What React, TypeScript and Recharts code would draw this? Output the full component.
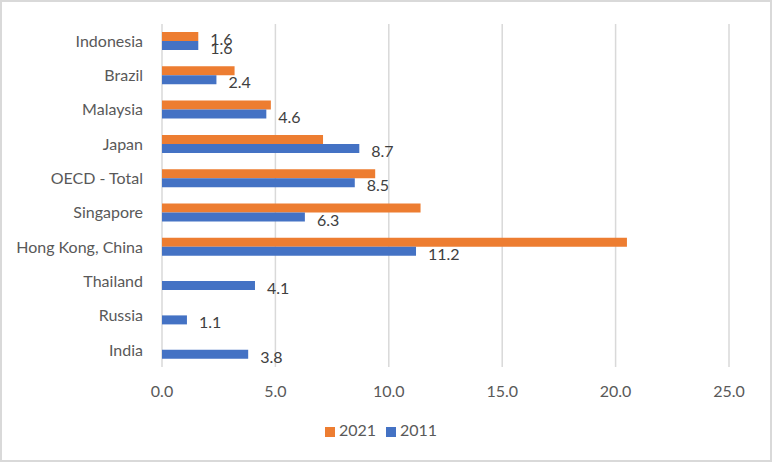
import React from "react";
import {
  Bar,
  BarChart,
  CartesianGrid,
  LabelList,
  Legend,
  XAxis,
  YAxis,
} from "recharts";

const categories = [
  "Indonesia",
  "Brazil",
  "Malaysia",
  "Japan",
  "OECD - Total",
  "Singapore",
  "Hong Kong, China",
  "Thailand",
  "Russia",
  "India",
];
const values2021 = [1.6, 3.2, 4.8, 7.1, 9.4, 11.4, 20.5, null, null, null];
const values2011 = [1.6, 2.4, 4.6, 8.7, 8.5, 6.3, 11.2, 4.1, 1.1, 3.8];
const xTicks = [0, 5, 10, 15, 20, 25];
const legendOrder = ["2021", "2011"];
// Excel only had the 2021 data label switched on for this one point
const labelled2021 = ["Indonesia"];

const data = categories.map((name, i) => ({
  name,
  y2021: values2021[i],
  y2011: values2011[i],
}));

const textColor = "#595959";
const fontSize = 16;

function ValueLabel(props: any) {
  const { x, y, width, height, value, index, only } = props;
  if (value == null) return null;
  if (only && !only.includes(categories[index])) return null;
  return (
    <text
      x={x + width + 12}
      y={y + height / 2 + 2}
      fill="#404040"
      fontSize={fontSize}
      dominantBaseline="central"
    >
      {Number(value).toFixed(1)}
    </text>
  );
}

export default function App() {
  return (
    <div
      style={{
        position: "absolute",
        left: 0,
        top: 0,
        width: 772,
        height: 462,
        background: "#fff",
        fontFamily: "Lato, 'Liberation Sans', sans-serif",
      }}
    >
      <BarChart
        width={772}
        height={462}
        data={data}
        layout="vertical"
        barSize={9}
        barGap={0}
        margin={{ top: 24, right: 43, left: 0, bottom: 0 }}
      >
        <CartesianGrid
          horizontal={false}
          stroke="#d9d9d9"
          strokeWidth={1.5}
        />
        <XAxis
          type="number"
          domain={[0, 25]}
          ticks={xTicks}
          height={95}
          axisLine={false}
          tickLine={false}
          tickMargin={13}
          tick={{ fill: textColor, fontSize }}
          tickFormatter={(v) => Number(v).toFixed(1)}
        />
        <YAxis
          type="category"
          dataKey="name"
          width={162}
          axisLine={false}
          tickLine={false}
          tickMargin={13}
          interval={0}
          tick={{ fill: textColor, fontSize }}
        />
        <Legend
          layout="horizontal"
          align="center"
          verticalAlign="middle"
          iconType="square"
          iconSize={10}
          itemSorter={(item: any) => legendOrder.indexOf(String(item.value))}
          wrapperStyle={{ top: 420, left: 0, width: 772 }}
          formatter={(value) => (
            <span style={{ color: textColor, fontSize }}>{value}</span>
          )}
        />
        <Bar
          dataKey="y2021"
          name="2021"
          fill="#ED7D31"
          isAnimationActive={false}
        >
          <LabelList
            dataKey="y2021"
            content={(p: any) => <ValueLabel {...p} only={labelled2021} />}
          />
        </Bar>
        <Bar
          dataKey="y2011"
          name="2011"
          fill="#4472C4"
          isAnimationActive={false}
        >
          <LabelList
            dataKey="y2011"
            content={(p: any) => <ValueLabel {...p} />}
          />
        </Bar>
      </BarChart>
      <div
        style={{
          position: "absolute",
          left: 0,
          top: 0,
          width: 772,
          height: 462,
          boxSizing: "border-box",
          border: "2px solid #d9d9d9",
          pointerEvents: "none",
        }}
      />
    </div>
  );
}
